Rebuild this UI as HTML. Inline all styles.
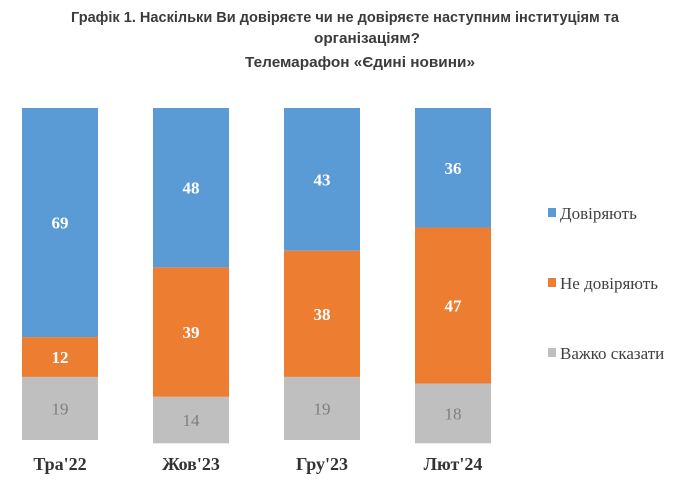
<!DOCTYPE html>
<html><head><meta charset="utf-8"><style>
body{margin:0;background:#fff;}
svg{display:block;}
</style></head><body>
<svg id="c" width="690" height="488" xmlns="http://www.w3.org/2000/svg">
<g font-family="Liberation Sans, sans-serif" font-weight="bold" fill="#3b3b3b" font-size="15">
<text x="345" y="22" text-anchor="middle" textLength="548" lengthAdjust="spacingAndGlyphs">Графік 1. Наскільки Ви довіряєте чи не довіряєте наступним інституціям та</text>
<text x="367" y="43" text-anchor="middle" textLength="106" lengthAdjust="spacingAndGlyphs">організаціям?</text>
<text x="360" y="67" text-anchor="middle" textLength="230" lengthAdjust="spacingAndGlyphs">Телемарафон «Єдині новини»</text>
</g>
<g id="bars"></g>
<g id="legend" font-family="Liberation Serif, serif" font-size="17" fill="#404040"></g>
</svg>
<script>
const categories=["Тра'22","Жов'23","Гру'23","Лют'24"];
const trust=[69,48,43,36];
const distrust=[12,39,38,47];
const hard=[19,14,19,18];
const seriesNames=["Довіряють","Не довіряють","Важко сказати"];
const colors=["#5b9bd5","#ed7d31","#bfbfbf"];
const NS="http://www.w3.org/2000/svg";
const top0=108, unit=3.32, barW=76, x0=22, pitch=131;
const xPos=i=>x0+i*pitch;
const yPos=v=>top0+v*unit;
const g=document.getElementById('bars');
function mk(t,a){const e=document.createElementNS(NS,t);for(const k in a)e.setAttribute(k,a[k]);return e;}
const series=[trust,distrust,hard];
categories.forEach((cat,i)=>{
  let acc=0;
  series.forEach((s,j)=>{
    const v=s[i];
    const r=mk('rect',{x:xPos(i),y:yPos(acc),width:barW,height:v*unit,fill:colors[j]});
    
    
    g.appendChild(r);
    const t=mk('text',{x:xPos(i)+barW/2,y:yPos(acc+v/2)+6,'text-anchor':'middle','font-family':'Liberation Serif, serif','font-size':'17','font-weight':j<2?'bold':'normal',fill:j<2?'#fff':'#7f7f7f'});
    t.textContent=v;
    
    
    g.appendChild(t);
    acc+=v;
  });
  const l=mk('text',{x:xPos(i)+barW/2,y:470,'text-anchor':'middle','font-family':'Liberation Serif, serif','font-size':'18','font-weight':'bold',fill:'#333'});
  l.textContent=cat;
  
  
  g.appendChild(l);
});
const lg=document.getElementById('legend');
seriesNames.forEach((n,j)=>{
  const y=214+j*70;
  const r=mk('rect',{x:548,y:y-6,width:8,height:9,fill:colors[j]});
  
  
  lg.appendChild(r);
  const t=mk('text',{x:560,y:y+5});
  t.textContent=n;
  
  
  lg.appendChild(t);
});
</script>
</body></html>
